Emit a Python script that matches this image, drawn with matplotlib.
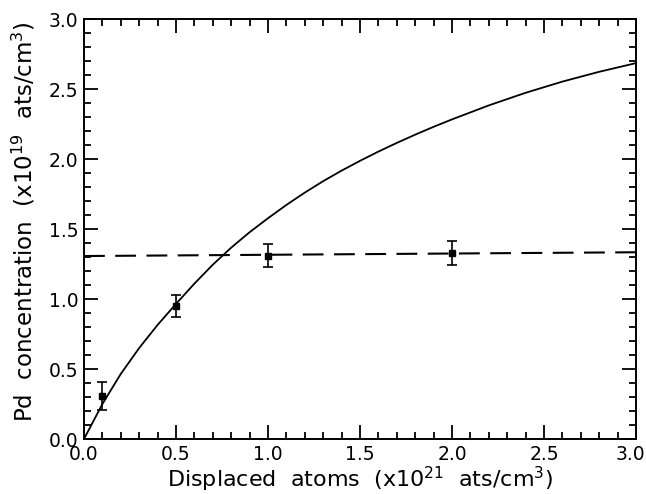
import matplotlib.pyplot as plt
import matplotlib.transforms as mtransforms
from matplotlib.ticker import MultipleLocator

# measured Pd concentration vs displaced atoms
disp_x = [0.1, 0.5, 1.0, 2.0]
pd_conc = [0.31, 0.95, 1.31, 1.33]
pd_err = [0.10, 0.08, 0.08, 0.085]

# model curve
curve_x = [0.0, 0.1, 0.2, 0.3, 0.4, 0.5, 0.6, 0.7, 0.8, 0.9, 1.0,
           1.1, 1.2, 1.3, 1.4, 1.5, 1.6, 1.7, 1.8, 1.9, 2.0,
           2.2, 2.4, 2.6, 2.8, 3.0]
curve_y = [0.0, 0.25, 0.465, 0.65, 0.815, 0.965, 1.11, 1.245, 1.367, 1.477,
           1.577, 1.672, 1.76, 1.842, 1.917, 1.987, 2.053, 2.115, 2.174,
           2.23, 2.283, 2.383, 2.473, 2.553, 2.623, 2.685]

# saturation level (dashed)
sat_x = [0.0, 3.0]
sat_y = [1.307, 1.334]

x_ticks = [0.0, 0.5, 1.0, 1.5, 2.0, 2.5, 3.0]
y_ticks = [0.0, 0.5, 1.0, 1.5, 2.0, 2.5, 3.0]

plt.rcParams["font.family"] = ["DejaVu Sans"]
plt.rcParams["mathtext.default"] = "regular"

fig = plt.figure(figsize=(6.46, 4.94), dpi=100)
ax = fig.add_axes([0.130, 0.1113, 0.8545, 0.8502])

ax.plot(curve_x, curve_y, color="black", lw=1.3)
ax.plot(sat_x, sat_y, color="black", lw=1.5, dashes=(10, 5))
ax.errorbar(disp_x, pd_conc, yerr=pd_err, fmt="s", color="black",
            ms=5, elinewidth=1.2, capsize=3.5, capthick=1.2)

ax.set_xlim(0, 3.0)
ax.set_ylim(0, 3.0)
ax.set_xticks(x_ticks, [f"{v:.1f}" for v in x_ticks])
ax.set_yticks(y_ticks, [f"{v:.1f}" for v in y_ticks])
ax.xaxis.set_minor_locator(MultipleLocator(0.1))
ax.yaxis.set_minor_locator(MultipleLocator(0.1))

ax.tick_params(which="both", direction="in", top=True, right=True,
               width=1.3, labelsize=13.5, colors="black")
ax.tick_params(which="major", length=10, pad=4)
ax.tick_params(which="minor", length=5)
for s in ax.spines.values():
    s.set_linewidth(1.4)

# keep the last x tick label inside the figure edge
last = ax.get_xticklabels()[-1]
last.set_transform(last.get_transform() +
                   mtransforms.ScaledTranslation(-0.06, 0, fig.dpi_scale_trans))

ax.set_xlabel("Displaced  atoms  (x10$^{21}$  ats/cm$^{3}$)", fontsize=16,
              labelpad=1)
ax.set_ylabel("Pd  concentration  (x10$^{19}$  ats/cm$^{3}$)", fontsize=16.5)
ax.yaxis.set_label_coords(-0.085, 0.518)

fig.savefig("out.png", dpi=100)
